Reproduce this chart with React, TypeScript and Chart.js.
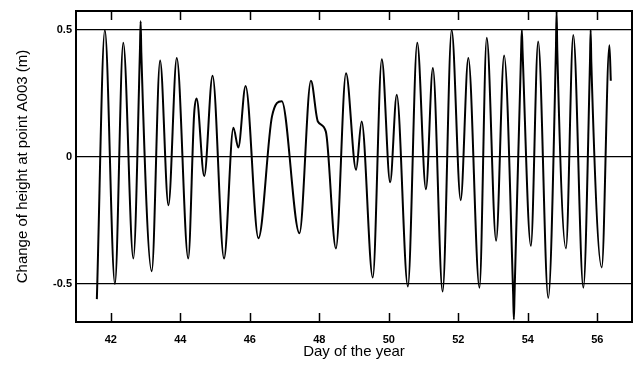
import React, { useEffect, useRef } from "react";
import { Chart, registerables } from "chart.js";

Chart.register(...registerables);

// Day of the year (x) and change of height at point A003 in metres (y)
const days: number[] = [
  41.6, 41.83, 42.12, 42.36, 42.65, 42.84, 42.86, 42.88, 43.18, 43.42,
  43.66, 43.9, 44.23, 44.4, 44.47, 44.69, 44.93, 45.26, 45.53, 45.67,
  45.88, 46.25, 46.64, 46.92, 47.43, 47.76, 47.96, 48.19, 48.48, 48.77,
  49.06, 49.22, 49.54, 49.8, 50.04, 50.23, 50.55, 50.82, 51.07, 51.27,
  51.55, 51.81, 52.07, 52.29, 52.61, 52.82, 53.09, 53.32, 53.58, 53.6,
  53.62, 53.81, 53.83, 53.85, 54.09, 54.3, 54.59, 54.81, 54.83, 54.85,
  55.1, 55.31, 55.6, 55.79, 55.81, 55.83, 56.13, 56.35, 56.39,
];
const heights: number[] = [
  -0.56, 0.5, -0.5, 0.45, -0.4, 0.42, 0.535, 0.41, -0.45, 0.38,
  -0.19, 0.39, -0.4, 0.17, 0.23, -0.075, 0.32, -0.4, 0.115, 0.037,
  0.28, -0.32, 0.16, 0.22, -0.3, 0.3, 0.14, 0.1, -0.36, 0.33,
  -0.05, 0.14, -0.475, 0.385, -0.1, 0.245, -0.51, 0.45, -0.127, 0.35,
  -0.53, 0.5, -0.17, 0.39, -0.515, 0.47, -0.33, 0.4, -0.54, -0.64,
  -0.54, 0.42, 0.5, 0.42, -0.35, 0.455, -0.555, 0.42, 0.575, 0.42,
  -0.36, 0.48, -0.515, 0.37, 0.5, 0.37, -0.435, 0.44, 0.3,
];
const xTicks: number[] = [42, 44, 46, 48, 50, 52, 54, 56];
const yTicks: number[] = [-0.5, 0, 0.5];
const xTitle = "Day of the year";
const yTitle = "Change of height at point A003 (m)";

const FONT = "'Liberation Sans', Arial, Helvetica, sans-serif";

const framePlugin = {
  id: "frameAndTicks",
  afterDraw(chart: any) {
    const { ctx, chartArea, scales } = chart;
    const { left, right, top, bottom } = chartArea;
    ctx.save();
    ctx.strokeStyle = "#000";
    ctx.lineWidth = 1.5;
    ctx.beginPath();
    for (const v of xTicks) {
      const px = Math.round(scales.x.getPixelForValue(v)) + 0.5;
      ctx.moveTo(px, bottom);
      ctx.lineTo(px, bottom - 9);
      ctx.moveTo(px, top);
      ctx.lineTo(px, top + 9);
    }
    ctx.stroke();
    ctx.lineWidth = 2;
    ctx.strokeRect(left, top, right - left, bottom - top);
    ctx.restore();
  },
};

export default function App() {
  const ref = useRef<HTMLCanvasElement | null>(null);
  useEffect(() => {
    if (!ref.current) return;
    const data = days.map((d, i) => ({ x: d, y: heights[i] }));
    const chart = new Chart(ref.current, {
      type: "line",
      data: {
        datasets: [
          {
            data,
            borderColor: "#000",
            borderWidth: 2,
            pointRadius: 0,
            cubicInterpolationMode: "monotone",
            fill: false,
          },
        ],
      },
      options: {
        animation: false,
        responsive: false,
        devicePixelRatio: 1,
        layout: { padding: { top: 11, right: 2, left: 0, bottom: 0 } },
        plugins: { legend: { display: false }, tooltip: { enabled: false } },
        scales: {
          x: {
            type: "linear",
            min: 41,
            max: 57,
            afterBuildTicks: (axis: any) => {
              axis.ticks = xTicks.map((v) => ({ value: v }));
            },
            afterFit: (scale: any) => {
              scale.height = 43;
            },
            grid: { display: false, drawTicks: false },
            border: { display: false },
            ticks: {
              padding: 11,
              color: "#000",
              font: { family: FONT, size: 11, weight: "bold" },
              callback: (v: any) => String(v),
            },
            title: {
              display: true,
              text: xTitle,
              color: "#000",
              font: { family: FONT, size: 15 },
              padding: { top: 0, bottom: 4.5 },
            },
          },
          y: {
            type: "linear",
            min: -0.65,
            max: 0.575,
            afterBuildTicks: (axis: any) => {
              axis.ticks = yTicks.map((v) => ({ value: v }));
            },
            afterFit: (scale: any) => {
              scale.width = 76;
            },
            grid: { color: "#000", lineWidth: 1.3, drawTicks: false },
            border: { display: false },
            ticks: {
              padding: 4,
              color: "#000",
              font: { family: FONT, size: 11, weight: "bold" },
              callback: (v: any) => String(v),
            },
            title: {
              display: true,
              text: yTitle,
              color: "#000",
              font: { family: FONT, size: 15 },
              padding: { top: 13.5, bottom: 0 },
            },
          },
        },
      },
      plugins: [framePlugin],
    });
    return () => chart.destroy();
  }, []);
  return (
    <div style={{ position: "absolute", left: 0, top: 0, width: 634, height: 365, background: "#fff" }}>
      <canvas ref={ref} width={634} height={365} />
    </div>
  );
}
